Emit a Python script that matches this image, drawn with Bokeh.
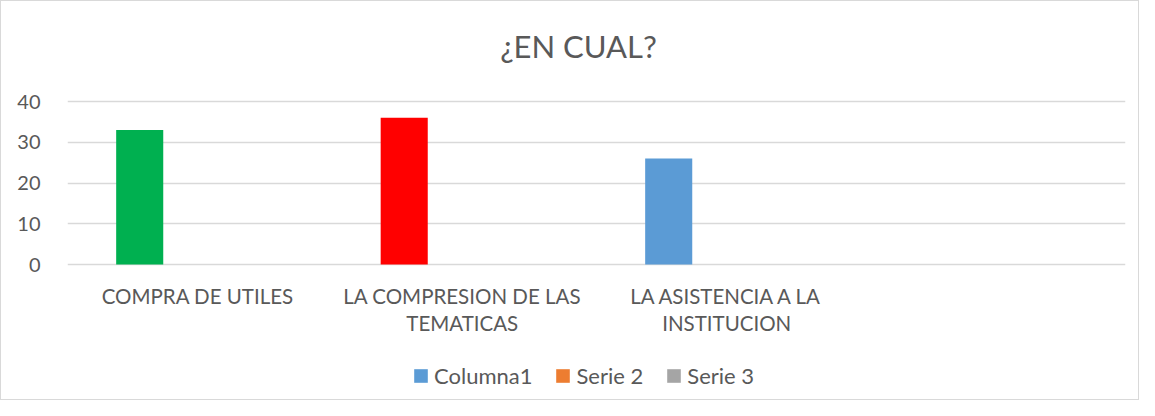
from bokeh.plotting import figure
from bokeh.models import FactorRange, Range1d, FixedTicker, Legend, LegendItem, ColumnDataSource, Label
from bokeh.transform import dodge
from bokeh.embed import file_html
from bokeh.resources import INLINE

title_text = "¿EN CUAL?"
categories = ["COMPRA DE UTILES", "LA COMPRESION DE LAS TEMATICAS", "LA ASISTENCIA A LA INSTITUCION", " "]
label_lines = {
    "COMPRA DE UTILES": ["COMPRA DE UTILES"],
    "LA COMPRESION DE LAS TEMATICAS": ["LA COMPRESION DE LAS", "TEMATICAS"],
    "LA ASISTENCIA A LA INSTITUCION": ["LA ASISTENCIA A LA", "INSTITUCION"],
}
columna1 = [33, 36, 26]
serie2 = []
serie3 = []
series_names = ["Columna1", "Serie 2", "Serie 3"]
y_ticks = [0, 10, 20, 30, 40]

point_colors = ["#00B050", "#FF0000", "#5B9BD5"]
series_colors = ["#5B9BD5", "#ED7D31", "#A5A5A5"]
FONT = "Lato"
TXT = "#595959"
GRID = "#D9D9D9"

# layout geometry (pixels)
W, H = 1139, 400
LEFT, RIGHT = 66, 15
Y_TOP_PX, Y_ZERO_PX = 100, 263          # where the value 40 and 0 sit
ppu = (Y_ZERO_PX - Y_TOP_PX) / y_ticks[-1]
y_end = y_ticks[-1] + Y_TOP_PX / ppu
y_start = -(H - Y_ZERO_PX) / ppu

p = figure(width=W, height=H, output_backend="svg", toolbar_location=None,
           x_range=FactorRange(factors=categories, range_padding=0),
           y_range=Range1d(y_start, y_end),
           min_border_left=LEFT, min_border_right=RIGHT, min_border_top=0, min_border_bottom=0)
p.outline_line_color = None
p.background_fill_color = "white"
p.border_fill_color = "white"
p.styles = {"border": "1px solid #D9D9D9"}

# title
p.add_layout(Label(x=len(categories) / 2, y=y_ticks[-1], x_offset=-18, y_offset=56,
                   text=title_text, text_align="center", text_baseline="middle",
                   text_font=FONT, text_font_size="31px", text_color=TXT))

src = ColumnDataSource(dict(x=categories[:len(columna1)], top=columna1, color=point_colors))
p.vbar(x=dodge("x", -0.227, range=p.x_range), top="top", bottom=0, width=0.178, source=src,
       fill_color="color", line_color=None)

# legend swatches: hidden proxy renderers (one per series)
items = []
for name, col in zip(series_names, series_colors):
    r = p.vbar(x=categories[:1], top=y_ticks[:1], width=0.178, fill_color=col, line_color=None)
    r.visible = False
    items.append(LegendItem(label=name, renderers=[r]))

legend = Legend(items=items, orientation="horizontal", location=(345, 12),
                label_text_font=FONT, label_text_font_size="22px", label_text_color=TXT,
                glyph_width=17, glyph_height=17, label_standoff=5, spacing=22,
                border_line_color=None, background_fill_alpha=0, margin=0, padding=4,
                click_policy="none")
p.add_layout(legend, "center")

for cat, lines in label_lines.items():
    cx = categories.index(cat) + 0.5  # synthetic coordinate of the factor's centre
    for i, line in enumerate(lines):
        p.add_layout(Label(x=cx, y=0, y_offset=-31 - 27 * i, x_offset=-2, text=line,
                           text_align="center", text_baseline="middle", text_font=FONT,
                           text_font_size="20.5px", text_color=TXT))

p.yaxis.ticker = FixedTicker(ticks=y_ticks)
p.yaxis.axis_line_color = None
p.yaxis.major_tick_line_color = None
p.yaxis.minor_tick_line_color = None
p.yaxis.major_label_text_font = FONT
p.yaxis.major_label_text_font_size = "20px"
p.yaxis.major_label_text_color = TXT
p.yaxis.major_label_standoff = 21

p.xaxis.visible = False
p.xgrid.grid_line_color = None
p.ygrid.grid_line_color = GRID
p.ygrid.grid_line_width = 1.5
p.ygrid.ticker = FixedTicker(ticks=y_ticks)

open("out.html", "w").write(file_html(p, INLINE))
